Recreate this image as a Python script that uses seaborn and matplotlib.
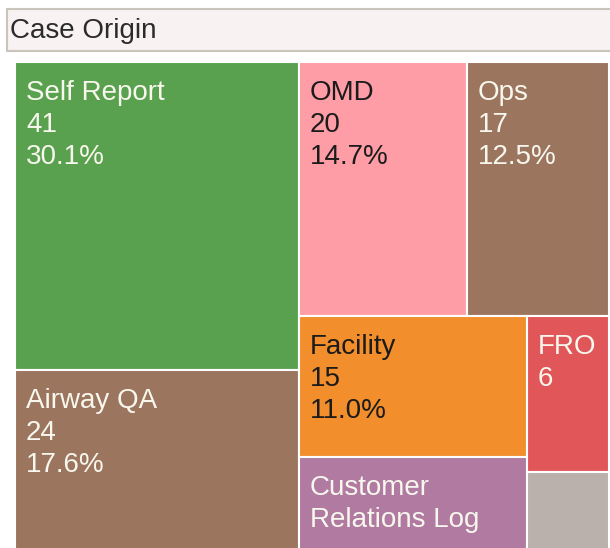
import matplotlib
matplotlib.use("Agg")
import matplotlib.pyplot as plt
import matplotlib.patches as mpatches
import seaborn as sns

# -----------------------------
# DATA
# -----------------------------
categories = ["Self Report", "Airway QA", "OMD", "Ops", "Facility",
              "Customer\nRelations Log", "FRO", "Other"]
counts = [41, 24, 20, 17, 15, 10, 6, 3]
colors = ["#59a14f", "#9c755f", "#ff9da7", "#9c755f", "#f28e2b",
          "#b07aa1", "#e15759", "#bab0ac"]
title = "Case Origin"


# -----------------------------
# SQUARIFIED LAYOUT
# -----------------------------
def worst(row, side):
    s = sum(row)
    return max(max(side * side * r / (s * s), s * s / (side * side * r)) for r in row)


def squarify(values, x, y, w, h, tol=1.5):
    total = sum(values)
    areas = [v * w * h / total for v in values]
    rects = []
    i = 0
    while i < len(areas):
        side = min(w, h)
        row = [areas[i]]
        i += 1
        while i < len(areas) and worst(row + [areas[i]], side) <= worst(row, side) * tol:
            row.append(areas[i])
            i += 1
        s = sum(row)
        if w >= h:
            # column on the left
            cw = s / h
            yy = y
            for a in row:
                rects.append((x, yy, cw, a / cw))
                yy += a / cw
            x += cw
            w -= cw
        else:
            # row on top
            rh = s / w
            xx = x
            for a in row:
                rects.append((xx, y, a / rh, rh))
                xx += a / rh
            y += rh
            h -= rh
    return rects


# -----------------------------
# FIGURE
# -----------------------------
sns.set_theme(style="white")
plt.rcParams["font.family"] = ["Liberation Sans", "DejaVu Sans"]

W, H = 610, 548
fig = plt.figure(figsize=(W / 100, H / 100), dpi=100)

# title bar
fig.patches.append(mpatches.Rectangle((7 / W, 1 - 51 / H), 610 / W, 42 / H,
                                      transform=fig.transFigure, facecolor="#f8f2f2",
                                      edgecolor="#c9c4bc", linewidth=1.5))
fig.text(10 / W, 1 - 38 / H, title, fontsize=20, color="#2b2b2b", va="baseline", ha="left")

# treemap axes (pixel units, slightly larger than the visible canvas)
top = 62
tw, th = 594, 488
ax = fig.add_axes([15 / W, (H - top - th) / H, tw / W, th / H])
ax.set_xlim(0, tw)
ax.set_ylim(th, 0)
ax.axis("off")

total = sum(counts)
rects = squarify(counts, 0, 0, tw, th)
visible_bottom = H - top  # canvas bottom in treemap units

for name, val, col, (rx, ry, rw, rh) in zip(categories, counts, colors, rects):
    ax.add_patch(mpatches.Rectangle((rx, ry), rw, rh, facecolor=col,
                                    edgecolor="white", linewidth=1.5))
    if rw * rh < 10000:
        continue
    r, g, b = [int(col[k:k + 2], 16) for k in (1, 3, 5)]
    lum = 0.299 * r + 0.587 * g + 0.114 * b
    tcol = "#1b1b1b" if lum > 150 else "#f8f7ee"
    lines = name.split("\n") + [str(val)]
    if rw >= 100:
        lines.append(f"{val / total * 100:.1f}%")
    limit = min(ry + rh, visible_bottom)
    for k, line in enumerate(lines):
        baseline = ry + 38 + 32 * k
        if baseline + 5 > limit:
            break
        ax.text(rx + 11, baseline, line, fontsize=20, color=tcol,
                ha="left", va="baseline")

fig.savefig("out.png", dpi=100)
